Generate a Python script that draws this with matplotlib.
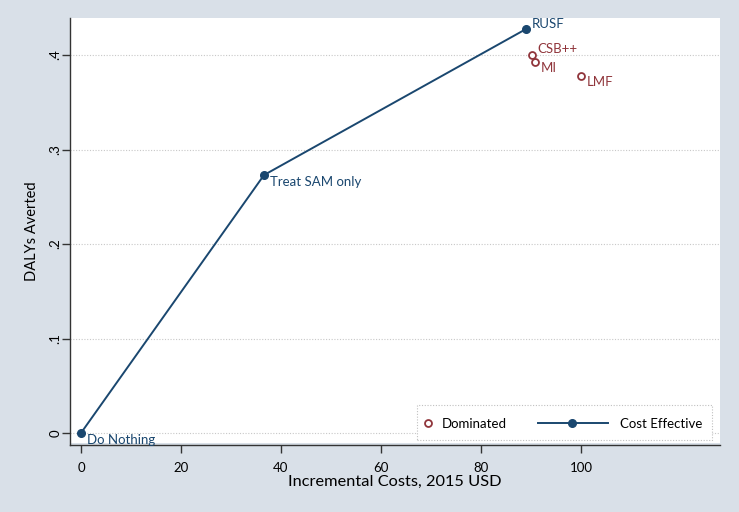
import matplotlib
matplotlib.use("Agg")
import matplotlib.pyplot as plt
from matplotlib.patches import Rectangle
from matplotlib.lines import Line2D

plt.rcParams['font.family'] = ['Lato', 'DejaVu Sans']

# Cost-effective frontier
ce_names = ["Do Nothing", "Treat SAM only", "RUSF"]
ce_cost = [0.0, 36.6, 89.0]
ce_daly = [0.0, 0.273, 0.4275]

# Dominated strategies
dom_names = ["CSB++", "MI", "LMF"]
dom_cost = [90.2, 90.8, 100.0]
dom_daly = [0.400, 0.3926, 0.378]

xticks = [0, 20, 40, 60, 80, 100]
yticks = [0, 0.1, 0.2, 0.3, 0.4]
ytick_labels = ["0", ".1", ".2", ".3", ".4"]

navy = "#1a476f"
maroon = "#90353b"
bg = "#d9e0e8"

W, H = 739, 512
fig = plt.figure(figsize=(W / 100, H / 100), dpi=100)
fig.patch.set_facecolor(bg)

# white plot region
fig.patches.append(Rectangle((70 / W, 1 - 443 / H), (720 - 70) / W, (443 - 18) / H,
                             transform=fig.transFigure, facecolor="white",
                             edgecolor="none", zorder=-5))

ax = fig.add_axes([70 / W, 1 - 445 / H, (720 - 70) / W, (445 - 18) / H])
ax.set_zorder(2)
ax.set_facecolor("none")
ax.set_xlim(-2.2, 127.8)
ax.set_ylim(-0.0127, 0.4392)

for s in ["top", "right"]:
    ax.spines[s].set_visible(False)
for s in ["left", "bottom"]:
    ax.spines[s].set_color("#333333")
    ax.spines[s].set_linewidth(1.0)

ax.set_xticks(xticks)
ax.set_yticks(yticks)
ax.set_yticklabels(ytick_labels, rotation=90, va="center")
ax.tick_params(axis="both", length=6, width=1, color="#333333", labelsize=9.5,
               labelcolor="black")
ax.tick_params(axis="x", pad=6)
ax.tick_params(axis="y", pad=0)

for y in yticks:
    ax.axhline(y, color="#c8c8c8", linestyle=(0, (1, 1.5)), linewidth=0.8, zorder=1)

ax.plot(ce_cost, ce_daly, color=navy, linewidth=1.4, marker="o", markersize=5.5,
        zorder=3, clip_on=False)
ax.plot(dom_cost, dom_daly, linestyle="none", marker="o", markersize=5,
        markerfacecolor="white", markeredgecolor=maroon, markeredgewidth=1.3,
        zorder=3)

for n, x, y in zip(ce_names, ce_cost, ce_daly):
    ax.annotate(n, (x, y), xytext=(4, -1), textcoords="offset points",
                ha="left", va="top" if n != "RUSF" else "bottom",
                color=navy, fontsize=9.5)
for n, x, y in zip(dom_names, dom_cost, dom_daly):
    ax.annotate(n, (x, y), xytext=(4, 0), textcoords="offset points",
                ha="left", va="bottom" if n == "CSB++" else "top",
                color=maroon, fontsize=9.5)

ax.set_xlabel("Incremental Costs, 2015 USD", fontsize=11.8, labelpad=1)
ax.set_ylabel("DALYs Averted", fontsize=10.5, labelpad=8)

# legend (manual, Stata style)
def px(xp, yp):
    return xp / W, 1 - yp / H

lx0, ly0 = px(417, 440)
lx1, ly1 = px(712, 405)
fig.patches.append(Rectangle((lx0, ly0), lx1 - lx0, ly1 - ly0,
                             transform=fig.transFigure, facecolor="white",
                             edgecolor="#c0c0c0", linestyle=(0, (1, 1.5)),
                             linewidth=0.8, zorder=5))
mx, my = px(428, 423)
fig.lines.append(Line2D([mx], [my], transform=fig.transFigure, marker="o",
                        markersize=5, markerfacecolor="white",
                        markeredgecolor=maroon, markeredgewidth=1.3, zorder=6))
fig.text(*px(442, 424), "Dominated", fontsize=9.5, va="center", ha="left", zorder=6)
a, b = px(538, 423)
c, d = px(608, 423)
fig.lines.append(Line2D([a, c], [b, d], transform=fig.transFigure, color=navy,
                        linewidth=1.4, zorder=6))
e, f = px(572, 423)
fig.lines.append(Line2D([e], [f], transform=fig.transFigure, marker="o",
                        markersize=5.5, color=navy, zorder=6))
fig.text(*px(620, 424), "Cost Effective", fontsize=9.5, va="center", ha="left", zorder=6)

fig.savefig("out.png", dpi=100, facecolor=bg)
